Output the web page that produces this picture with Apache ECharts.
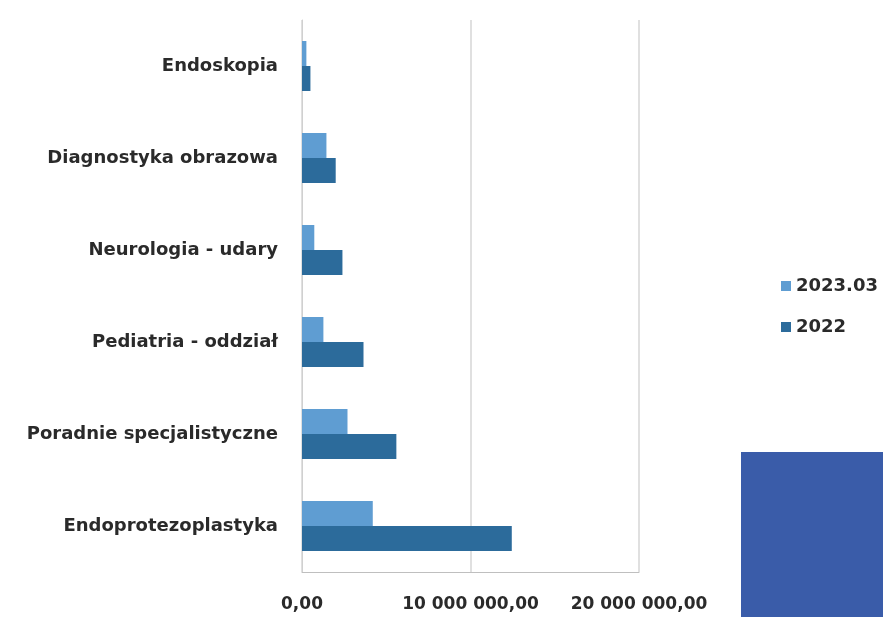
<!DOCTYPE html>
<html>
<head>
<meta charset="utf-8">
<script src="https://cdn.jsdelivr.net/npm/echarts@6/dist/echarts.min.js"></script>
<style>html,body{margin:0;padding:0;background:#fff;}#c{width:883px;height:617px;}</style>
</head>
<body>
<div id="c"></div>
<script>
const categories = ['Endoskopia', 'Diagnostyka obrazowa', 'Neurologia - udary', 'Pediatria - oddział', 'Poradnie specjalistyczne', 'Endoprotezoplastyka'];
const seriesNames = ['2023.03', '2022'];
const values2023 = [260000, 1450000, 730000, 1270000, 2700000, 4200000];
const values2022 = [500000, 2000000, 2400000, 3650000, 5600000, 12450000];
const xTicks = [0, 10000000, 20000000];
const colors = ['#5f9dd2', '#2c6b9b'];

const fontFam = '"DejaVu Sans", sans-serif';
const chart = echarts.init(document.getElementById('c'), null, {renderer: 'canvas'});
chart.setOption({
  animation: false,
  backgroundColor: '#ffffff',
  grid: {left: 302, right: 244, top: 20, bottom: 45},
  legend: {
    orient: 'vertical', left: 776, top: 272, itemGap: 23,
    itemWidth: 10, itemHeight: 10, icon: 'rect',
    textStyle: {fontFamily: fontFam, fontWeight: 'bold', fontSize: 18, color: '#2a2a2a'},
    data: seriesNames
  },
  xAxis: {
    type: 'value', min: xTicks[0], max: xTicks[xTicks.length - 1], interval: xTicks[1] - xTicks[0],
    axisLine: {show: true, lineStyle: {color: '#bfbfbf'}},
    axisTick: {show: false},
    splitLine: {show: true, lineStyle: {color: '#d6d6d6', width: 1.5}},
    axisLabel: {
      margin: 24, fontFamily: fontFam, fontWeight: 'bold', fontSize: 17, color: '#2a2a2a',
      formatter: v => {
        const s = Math.round(v).toString().replace(/\B(?=(\d{3})+(?!\d))/g, ' ');
        return s + ',00';
      }
    }
  },
  yAxis: {
    type: 'category', inverse: true, data: categories,
    axisLine: {show: true, lineStyle: {color: '#d0d0d0'}},
    axisTick: {show: false},
    axisLabel: {margin: 24, fontFamily: fontFam, fontWeight: 'bold', fontSize: 18, color: '#2a2a2a', padding: [4, 0, 0, 0]}
  },
  series: [
    {name: seriesNames[0], type: 'bar', data: values2023, barWidth: 25, barGap: '0%', itemStyle: {color: colors[0]}},
    {name: seriesNames[1], type: 'bar', data: values2022, barWidth: 25, barGap: '0%', itemStyle: {color: colors[1]}}
  ],
  graphic: [
    {type: 'rect', left: 741, top: 452, shape: {width: 142, height: 165}, style: {fill: '#3a5ca9'}, z: 10}
  ]
});
</script>
</body>
</html>
